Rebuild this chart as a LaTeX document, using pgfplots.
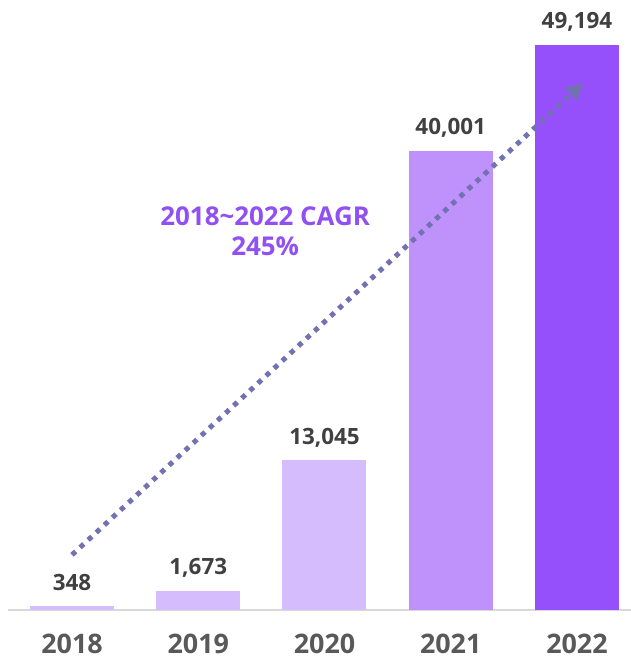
\documentclass[border=0pt]{standalone}
\usepackage{pgfplots}
\pgfplotsset{compat=1.18}
\usepackage{fontspec}
\setmainfont{Open Sans}
\usetikzlibrary{arrows.meta}
\definecolor{barA}{HTML}{D5BCFD}
\definecolor{barB}{HTML}{BF91FB}
\definecolor{barC}{HTML}{9650FB}
\definecolor{arr}{HTML}{7272B2}
\definecolor{lbl}{HTML}{404040}
\definecolor{tick}{HTML}{595959}
\definecolor{cagr}{HTML}{9050F2}
\begin{document}
\begin{tikzpicture}
\path[use as bounding box] (-8bp,-56bp) rectangle (623bp,610bp);
\begin{axis}[
  at={(0,0)}, anchor=south west,
  scale only axis, width=623bp, height=610bp,
  xmin=-0.507, xmax=4.428, ymin=0, ymax=53110,
  ybar, bar width=84bp, bar shift=0pt,
  axis x line=bottom, axis y line=none,
  axis line style={draw=black!15, line width=1.5bp, -},
  xtick={0,1,2,3,4}, xticklabels={2018,2019,2020,2021,2022},
  major tick length=0pt,
  xticklabel style={font=\bfseries\fontsize{27}{30}\selectfont, text=tick, anchor=base, yshift=-43bp},
  typeset ticklabels with strut,
  nodes near coords={\pgfmathprintnumber[assume math mode=true,1000 sep={,}]{\pgfplotspointmeta}},
  nodes near coords style={font=\bfseries\fontsize{22.5}{26}\selectfont, text=lbl, anchor=base, yshift=16bp, inner sep=0pt},
  clip=false,
]
\addplot[fill=barA, draw=none] coordinates {(0,348)};
\addplot[fill=barA, draw=none] coordinates {(1,1673)};
\addplot[fill=barA, draw=none] coordinates {(2,13045)};
\addplot[fill=barB, draw=none] coordinates {(3,40001)};
\addplot[fill=barC, draw=none] coordinates {(4,49194)};
\draw[arr, line width=5bp, dash pattern=on 5bp off 6bp, -{Triangle[length=17bp,width=17bp]}]
  (axis cs:0,4800) -- (axis cs:4.05,45886);
\node[text=cagr, font=\bfseries\fontsize{26}{30}\selectfont, align=center]
  at (axis cs:1.53,33000) {2018\textasciitilde2022 CAGR\\245\%};
\end{axis}
\end{tikzpicture}
\end{document}
